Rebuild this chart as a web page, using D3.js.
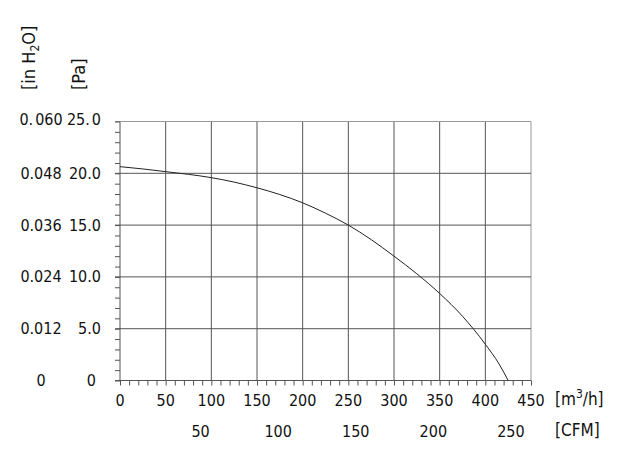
<!DOCTYPE html>
<html>
<head>
<meta charset="utf-8">
<script src="https://cdn.jsdelivr.net/npm/d3@7"></script>
<style>
	body { margin: 0; background: #fff; }
	text { font-family: "DejaVu Sans Condensed", "DejaVu Sans", sans-serif; fill: #111; }
</style>
</head>
<body>
<div id="chart"></div>
<script>
'use strict';

// fan curve: static pressure [Pa] against air flow [m3/h]
const flow     = [0, 25, 50, 75, 100, 125, 150, 175, 200, 225, 250, 275, 300, 325, 350, 375, 400, 415, 425];
const pressure = [20.64, 20.42, 20.16, 19.9, 19.58, 19.15, 18.6, 17.95, 17.15, 16.15, 15.0, 13.6, 12.0, 10.3, 8.4, 6.2, 3.5, 1.6, 0];

const flowTicks   = [0, 50, 100, 150, 200, 250, 300, 350, 400, 450];
const cfmTicks    = [50, 100, 150, 200, 250];
const paTicks     = [0, 5, 10, 15, 20, 25];
const paLabels    = ["0", "5.0", "10.0", "15.0", "20.0", "25. 0"];
const inH2OLabels = ["0", "0.012", "0.024", "0.036", "0.048", "0. 060"];

const CFM_TO_M3H = 1.699;


// a label like "25. 0" keeps its small gap after the point
const writeLabel = (sel, label) =>
{
	const parts = label.split(" ");
	sel.append("tspan").text(parts[0]);
	if (parts.length > 1) sel.append("tspan").attr("dx", 2).text(parts[1]);
};


const drawChart = () =>
{
	const width  = 626;
	const height = 463;
	const x      = d3.scaleLinear().domain([0, 450]).range([120, 531]);
	const y      = d3.scaleLinear().domain([0, 25]).range([380.5, 121.5]);
	const cfm    = d3.scaleLinear().domain([0, 450 / CFM_TO_M3H]).range([120, 531]);

	const svg = d3.select("#chart")
		.append("svg")
		.attr("width", width)
		.attr("height", height);

	// grid
	svg.append("g")
		.selectAll("line")
		.data(flowTicks)
		.enter()
			.append("line")
			.attr("x1", d => x(d))
			.attr("x2", d => x(d))
			.attr("y1", y(25))
			.attr("y2", y(0))
			.attr("stroke", d => d === 450 ? "#999" : "#555")
			.attr("stroke-width", 1);

	svg.append("g")
		.selectAll("line")
		.data(paTicks)
		.enter()
			.append("line")
			.attr("x1", x(0) - 5)
			.attr("x2", x(450))
			.attr("y1", d => y(d))
			.attr("y2", d => y(d))
			.attr("stroke", d => d === 25 ? "#999" : "#555")
			.attr("stroke-width", 1);

	// minor ticks
	svg.append("g")
		.attr("transform", "translate(" + x(0) + ",0)")
		.call(d3.axisLeft(y).ticks(25).tickSize(5).tickFormat(""))
		.call(g => g.select(".domain").remove())
		.selectAll("line").attr("stroke", "#555");

	svg.append("g")
		.attr("transform", "translate(0," + y(0) + ")")
		.call(d3.axisBottom(x).ticks(45).tickSize(5).tickFormat(""))
		.call(g => g.select(".domain").remove())
		.selectAll("line").attr("stroke", "#555");

	// tick labels
	svg.append("g")
		.selectAll("text")
		.data(paTicks)
		.enter()
			.append("text")
			.attr("x", d => d === 0 ? 96 : 101)
			.attr("y", d => y(d) + (d === 25 ? 3 : 5.5))
			.attr("text-anchor", "end")
			.attr("font-size", 16)
			.each(function (d, i) { writeLabel(d3.select(this), paLabels[i]); });

	svg.append("g")
		.selectAll("text")
		.data(paTicks)
		.enter()
			.append("text")
			.attr("x", 41)
			.attr("y", d => y(d) + (d === 25 ? 3 : 5.5))
			.attr("text-anchor", "middle")
			.attr("font-size", 16)
			.each(function (d, i) { writeLabel(d3.select(this), inH2OLabels[i]); });

	svg.append("g")
		.selectAll("text")
		.data(flowTicks)
		.enter()
			.append("text")
			.attr("x", d => x(d))
			.attr("y", 406)
			.attr("text-anchor", "middle")
			.attr("font-size", 16)
			.text(d => d);

	svg.append("g")
		.selectAll("text")
		.data(cfmTicks)
		.enter()
			.append("text")
			.attr("x", d => cfm(d) + 3)
			.attr("y", 437)
			.attr("text-anchor", "middle")
			.attr("font-size", 16)
			.text(d => d);

	// units
	const m3h = svg.append("text")
		.attr("x", 555)
		.attr("y", 405)
		.attr("font-size", 17);
	m3h.append("tspan").text("[m");
	m3h.append("tspan").attr("dy", -7).attr("font-size", 12).text("3");
	m3h.append("tspan").attr("dy", 7).text("/h]");

	svg.append("text")
		.attr("x", 555)
		.attr("y", 436)
		.attr("font-size", 17)
		.text("[CFM]");

	const inH2O = svg.append("text")
		.attr("transform", "translate(35,90) rotate(-90)")
		.attr("font-size", 18);
	inH2O.append("tspan").text("[in H");
	inH2O.append("tspan").attr("dy", 4).attr("font-size", 12).text("2");
	inH2O.append("tspan").attr("dy", -4).text("O]");

	svg.append("text")
		.attr("transform", "translate(85,90) rotate(-90)")
		.attr("font-size", 18)
		.text("[Pa]");

	// curve
	const line = d3.line()
		.x((d, i) => x(flow[i]))
		.y(d => y(d))
		.curve(d3.curveMonotoneX);

	svg.append("path")
		.datum(pressure)
		.attr("d", line)
		.attr("fill", "none")
		.attr("stroke", "#222")
		.attr("stroke-width", 1);
};


document.addEventListener("DOMContentLoaded", () =>
{
	drawChart();
}, false);
</script>
</body>
</html>
